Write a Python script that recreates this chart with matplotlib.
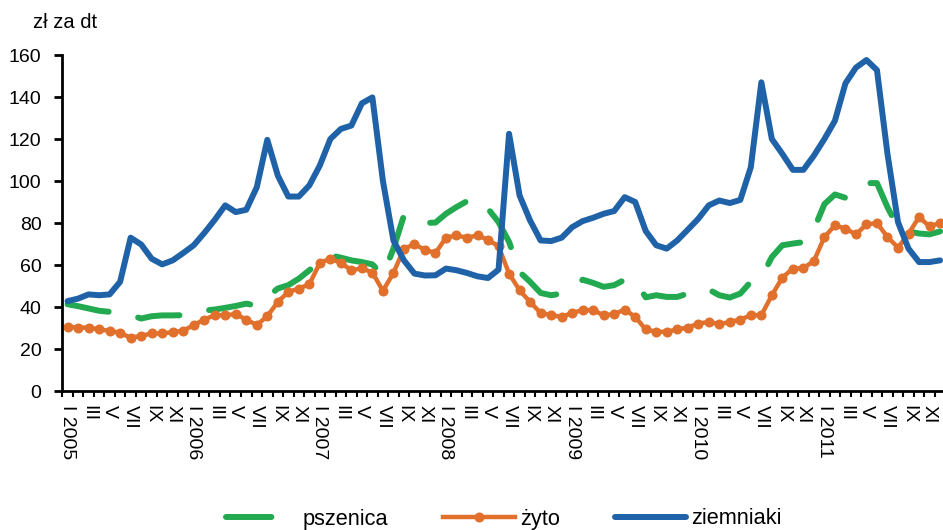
import numpy as np
import matplotlib
matplotlib.use('Agg')
import matplotlib.pyplot as plt
from matplotlib.lines import Line2D

plt.rcParams['font.family'] = ['Liberation Sans', 'DejaVu Sans']

years = [2005, 2006, 2007, 2008, 2009, 2010, 2011]
months = ['I', 'II', 'III', 'IV', 'V', 'VI', 'VII', 'VIII', 'IX', 'X', 'XI', 'XII']

# ceny miesieczne, zl za dt (I 2005 - XII 2011)
pszenica = [41.3, 40.4, 39.3, 38.2, 37.7, 37.2, 36.2, 34.5, 35.6, 36.0, 36.0, 36.1,
            37.0, 38.3, 38.8, 39.6, 40.5, 41.6, 40.6, 44.8, 48.8, 50.4, 53.5, 57.5,
            61.5, 64.6, 63.5, 62.2, 61.4, 60.3, 55.0, 67.8, 83.6, 82.0, 80.0, 80.2,
            84.4, 87.6, 90.4, 91.5, 86.8, 80.4, 71.0, 56.7, 52.0, 46.7, 45.6, 46.4,
            49.0, 53.0, 51.5, 49.6, 50.4, 53.0, 52.5, 44.6, 45.6, 44.8, 44.8, 46.4,
            47.5, 48.3, 45.6, 44.5, 46.4, 52.0, 54.0, 63.8, 69.4, 70.2, 70.9, 77.0,
            89.0, 93.6, 92.0, 95.0, 99.0, 99.0, 87.5, 78.0, 76.0, 75.0, 74.6, 76.0]
zyto = [30.6, 30.2, 30.2, 29.3, 28.7, 27.7, 25.3, 26.3, 27.4, 27.4, 28.0, 28.7,
        31.4, 34.0, 36.1, 36.1, 36.6, 34.0, 31.4, 35.6, 42.4, 47.2, 48.8, 50.8,
        61.0, 63.0, 61.0, 57.5, 58.5, 56.4, 47.7, 56.2, 67.8, 69.8, 67.3, 65.7,
        73.0, 74.1, 73.0, 74.1, 72.0, 68.9, 55.9, 48.0, 42.4, 37.2, 36.1, 35.3,
        37.2, 38.5, 38.5, 36.1, 36.6, 38.8, 35.3, 29.3, 28.2, 28.2, 29.3, 30.2,
        32.1, 32.9, 31.8, 32.9, 34.0, 36.1, 36.1, 45.6, 54.0, 58.3, 58.5, 61.9,
        73.3, 78.9, 77.3, 74.6, 79.3, 80.0, 73.3, 68.3, 74.9, 82.8, 78.4, 80.0]
ziemniaki = [42.8, 44.0, 46.0, 45.6, 46.0, 52.0, 73.0, 69.8, 63.0, 60.3, 62.2, 65.7,
             69.4, 75.2, 81.5, 88.4, 85.2, 86.3, 97.0, 119.6, 102.6, 92.6, 92.6, 97.9,
             107.4, 120.0, 124.8, 126.4, 137.0, 139.8, 100.0, 71.7, 62.2, 55.9, 55.0, 55.1,
             58.3, 57.5, 56.2, 54.6, 53.8, 57.8, 122.5, 93.1, 81.2, 71.7, 71.4, 73.0,
             78.0, 80.9, 82.5, 84.4, 85.7, 92.3, 90.0, 76.2, 69.4, 67.8, 71.7, 76.8,
             82.0, 88.4, 90.7, 89.5, 91.0, 106.6, 147.0, 120.0, 112.9, 105.3, 105.3, 112.1,
             120.0, 128.7, 146.5, 154.0, 157.6, 152.8, 112.9, 80.4, 67.8, 61.4, 61.4, 62.2]

x = np.arange(len(ziemniaki))
tick_labels = []
for i in x[::2]:
    m = months[i % 12]
    if i % 12 == 0:
        tick_labels.append('{} {}'.format(m, years[i // 12]))
    else:
        tick_labels.append(m)

fig = plt.figure(figsize=(9.43, 5.30), dpi=100)
# os kategorii siega troche poza prawa krawedz obrazka
ax = fig.add_axes([62.3 / 943, 139 / 530, 883 / 943, 336 / 530])

green = '#23AA50'
orange = '#E0702B'
blue = '#1F62A8'

ax.plot(x, pszenica, color=green, lw=4.3, dashes=(7.0, 5.05),
        dash_capstyle='round')
l_zyto, = ax.plot(x, zyto, color=orange, lw=3.2, marker='o', markersize=6.2,
                  solid_joinstyle='round')
l_ziem, = ax.plot(x, ziemniaki, color=blue, lw=4.3, solid_joinstyle='round',
                  solid_capstyle='round')

ax.set_xlim(-0.5, 83.5)
ax.set_ylim(0, 160)
ax.set_yticks(np.arange(0, 161, 20))
ax.set_xticks(x[::2])
ax.set_xticklabels(tick_labels, rotation=270, ha='center', va='top')
ax.set_xticks(np.arange(-0.5, 84, 1), minor=True)

ax.tick_params(axis='x', which='major', length=0, pad=10, labelsize=14)
ax.tick_params(axis='x', which='minor', length=4, width=1.5, direction='out')
ax.tick_params(axis='y', length=6, width=2, pad=9, labelsize=14)

for s in ['top', 'right']:
    ax.spines[s].set_visible(False)
for s in ['left', 'bottom']:
    ax.spines[s].set_linewidth(2)

fig.text(33 / 943, 1 - 28 / 530, 'zł za dt', fontsize=14.5, ha='left', va='baseline')

# w legendzie tylko jedna kreska przerywanej linii
h_psz = Line2D([], [], color=green, lw=4.3, dashes=(7.6, 30), dash_capstyle='round')
fig.legend([h_psz, l_zyto, l_ziem], ['pszenica', 'żyto', 'ziemniaki'],
           loc='center', bbox_to_anchor=(504 / 943, 1 - 519 / 530), ncol=3,
           frameon=False, fontsize=15.7, handlelength=3.3, handletextpad=0.23,
           columnspacing=2.5)

fig.savefig('out.png', dpi=100)
